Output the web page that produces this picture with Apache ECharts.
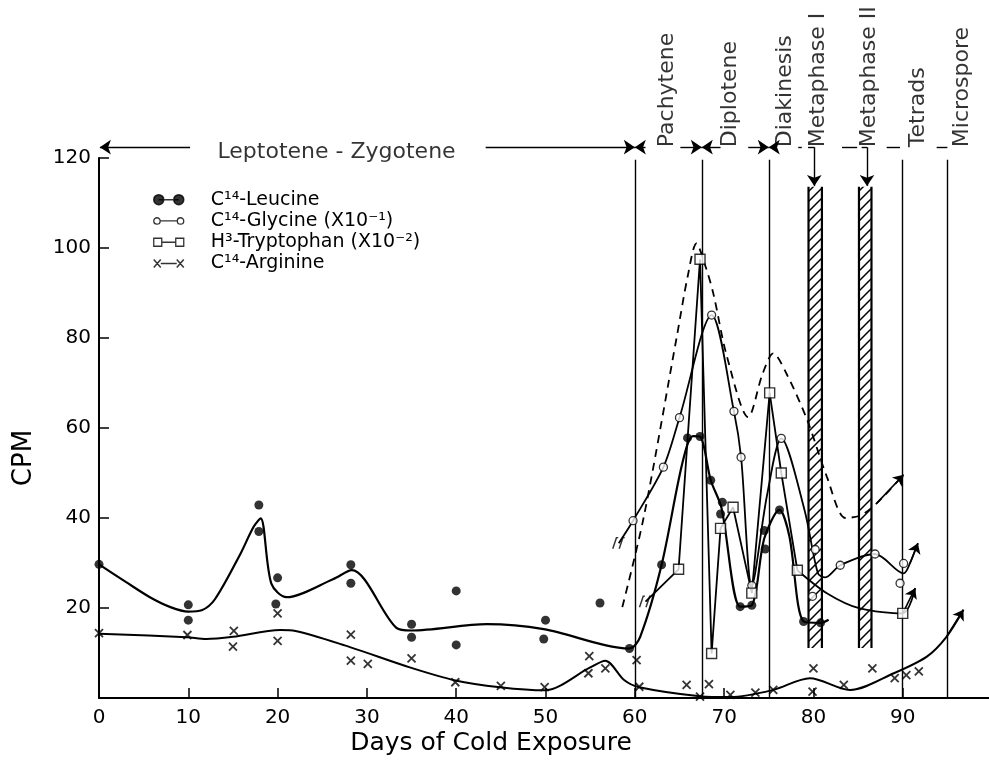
<!DOCTYPE html>
<html><head><meta charset="utf-8">
<script src="https://cdn.jsdelivr.net/npm/echarts@6/dist/echarts.min.js"></script>
<style>html,body{margin:0;padding:0;background:#fff}#c{width:989px;height:761px}</style>
</head><body><div id="c"></div>
<script>
const FONT = 'DejaVu Sans';
// ---------- axis ticks ----------
const xTicks = [0,10,20,30,40,50,60,70,80,90];
const yTicks = [20,40,60,80,100,120];

// ---------- observations ----------
const leucinePoints = [[0,29.7],[10,20.7],[10,17.3],[17.9,42.9],[17.9,37],[20,26.7],[19.8,20.9],[28.2,29.6],[28.2,25.5],[35,16.4],[35,13.5],[40,23.8],[40,11.8],[50,17.3],[49.8,13.1],[56.1,21.1],[59.4,11],[63,29.6],[65.9,57.8],[67.3,58.1],[68.5,48.4],[69.8,43.5],[69.6,40.9],[71.8,20.3],[73.1,20.6],[74.5,37.2],[74.6,33.1],[76.2,41.8],[78.9,17],[80.8,16.7]];
const glycinePoints = [[59.8,39.4],[63.2,51.3],[65,62.3],[68.6,85.1],[71.1,63.7],[71.9,53.5],[73.1,25],[76.4,57.7],[80.2,33],[79.9,22.6],[83,29.5],[86.9,32],[90.1,29.9],[89.7,25.5]];
const tryptophanPoints = [[64.9,28.6],[67.3,97.5],[68.6,9.9],[69.6,37.7],[71,42.4],[73.1,23.3],[75.1,67.8],[76.4,50],[78.2,28.4],[90,18.8]];
const argininePoints = [[0,14.4],[9.9,14],[15.1,14.9],[15,11.4],[20,18.8],[20,12.7],[28.2,14.1],[28.2,8.3],[30.1,7.6],[35,8.8],[39.9,3.5],[45,2.7],[49.9,2.4],[54.9,9.3],[54.8,5.5],[56.7,6.6],[60.2,8.4],[60.5,2.5],[65.8,2.9],[67.3,0.3],[68.3,3.1],[70.7,0.7],[73.5,1.2],[75.5,1.8],[80,6.6],[79.9,1.4],[83.4,2.9],[86.6,6.6],[89.1,4.4],[90.4,5.1],[91.8,5.9]];

// ---------- drawn curves ----------
const leucineCurve = [[0,29.7],[3,25.8],[5.7,22.4],[8,20.2],[10,19.2],[11.5,19.5],[13,22],[15.8,31.9],[17.3,38],[18.1,39.9],[19.3,25.4],[21,22.4],[26.2,26.4],[28.3,28.4],[33.3,15.6],[35,15],[43.4,16.4],[49.8,15.3],[59.4,11],[60.6,13.6],[63,29.6],[65.3,52],[66.5,58.2],[67.3,58.1],[68.5,48.4],[69.7,42.3],[71.8,20.3],[73.1,20.6],[74.5,35.5],[76.2,41.8],[77.3,36],[78.9,17],[80.8,16.7],[81.7,17.4]];
const glycineCurve = [[58.2,34.4],[59.8,39.4],[63.2,51.3],[65,62.3],[68.6,85.1],[71.1,63.7],[71.9,53.5],[73.1,25],[74.8,45],[76.4,57.7],[79,41.8],[80.5,27.7],[81.3,26.8],[83,29.5],[86.9,32],[90.1,27.7],[90.8,29.9],[91.7,34.4]];
const tryptophanLine = [[61.2,21.4],[64.9,28.6],[67.3,97.5],[68.6,9.9],[69.6,37.7],[71,42.4],[73.1,23.3],[75.1,67.8],[76.4,50],[78.2,28.4]];
const tryptophanCurve = [[78.2,28.4],[81.5,23.3],[85.2,19.9],[90,18.8],[91.4,24.4]];
const arginineCurve = [[0,14.3],[9.8,13.5],[12,13.1],[15,13.6],[20.3,15.1],[22,14.9],[28.1,11.3],[34.8,6.8],[39.9,3.9],[44.9,2.4],[49.9,1.7],[55,6.8],[56.7,8.3],[58.8,4],[60.5,2.4],[67.3,0.4],[70.7,0.2],[75.5,1.8],[79.6,4.4],[84.1,1.8],[89,5.5],[92.7,9.2],[94.9,13.6],[96.8,19.6]];
const dashedCurve = [[58.6,20.2],[61,40.2],[64.7,80.3],[65.9,93.5],[66.9,101],[67.9,96],[68.8,89.8],[70.3,76],[72.7,62.4],[74.3,72],[75.5,76.6],[77,72],[79.3,61.8],[81.5,49.2],[83.6,40],[85.3,40.6],[87.1,43.3],[90.1,49.6]];
const breakMarks = [[58.2,34.4],[61.2,21.4]];

// ---------- stage annotations ----------
const phaseBounds = [60, 67.5, 75, 90, 95];
const phaseTop = 119.6;
const stageRowY = 122.4;
const stageNames = ['Pachytene','Diplotene','Diakinesis','Metaphase I','Metaphase II','Tetrads','Microspore'];
const stageLabelX = [63.6, 70.7, 76.8, 80.5, 86.3, 91.7, 96.7];
const leptoLabel = 'Leptotene - Zygotene';
const leptoLabelPos = [26.6, 121.3];
// [from, to, arrow at from, arrow at to]
const stageSegments = [[0.1,10.2,1,0],[43.3,60,0,1],[60,61.2,1,0],[65.1,67.5,0,1],[67.5,69.6,1,0],[72.7,75,0,1],[75,75.8,1,0],
  [78.3,78.7,0,0],[79.4,80.1,0,0],[83.2,84.9,0,0],[85.4,86.0,0,0],[88.2,89.7,0,0],[93.8,95,0,0]];
const metaphaseArrowX = [80.1, 86.0];
const metaphaseArrowEnd = 113.8;
const metaphaseBars = [[79.45,80.95],[85.1,86.5]];
const barYRange = [11.1, 113.6];

// hatch pattern
function hatchCanvas(){
  const c=document.createElement('canvas'); c.width=10; c.height=10;
  const g=c.getContext('2d'); g.strokeStyle='#000'; g.lineWidth=1.5; g.lineCap='square';
  g.beginPath(); g.moveTo(0,10); g.lineTo(10,0); g.moveTo(-5,5); g.lineTo(5,-5); g.moveTo(5,15); g.lineTo(15,5); g.stroke();
  return c;
}
const HATCH = hatchCanvas();

const chart = echarts.init(document.getElementById('c'), null, {renderer:'canvas'});

const blk = '#000';
const LEU='C¹⁴-Leucine', GLY='C¹⁴-Glycine (X10⁻¹)', TRP='H³-Tryptophan (X10⁻²)', ARG='C¹⁴-Arginine';

function arrowEnd(arr){
  const n=arr.length;
  return {silent:true, animation:false, symbol:['none','arrow'], symbolSize:10,
    lineStyle:{color:blk,width:1.6,type:'solid'}, label:{show:false},
    data:[[{coord:arr[n-2]},{coord:arr[n-1]}]]};
}
function curve(name, data, opts){
  return Object.assign({type:'line', name, data, smooth:0.3, symbol:'none', silent:true,
    animation:false, lineStyle:{color:blk, width:1.8}, z:3}, opts||{});
}

const stageMarkData = stageSegments.map(s=>[
  {coord:[s[0],stageRowY], symbol: s[2]?'arrow':'none'},
  {coord:[s[1],stageRowY], symbol: s[3]?'arrow':'none'}])
 .concat(phaseBounds.map(x=>[{coord:[x,0],symbol:'none'},{coord:[x,phaseTop],symbol:'none'}]))
 .concat(metaphaseArrowX.map(x=>[{coord:[x,stageRowY],symbol:'none'},{coord:[x,metaphaseArrowEnd],symbol:'arrow'}]));

const option = {
  backgroundColor:'#fff',
  animation:false,
  textStyle:{fontFamily:FONT},
  grid:[
    {left:99, right:0, top:158, bottom:63},
    {left:99, right:0, top:0, bottom:63}
  ],
  xAxis:[
    {type:'value', gridIndex:0, min:0, max:99.66,
     axisLine:{lineStyle:{color:blk,width:2}},
     axisTick:{inside:true, length:10, customValues:xTicks, lineStyle:{color:blk,width:1.5}},
     axisLabel:{customValues:xTicks, color:blk, fontSize:20, fontFamily:FONT, margin:10},
     splitLine:{show:false}},
    {type:'value', gridIndex:1, min:0, max:99.66, show:false}
  ],
  yAxis:[
    {type:'value', gridIndex:0, min:0, max:120, interval:20,
     axisLine:{show:true, lineStyle:{color:blk,width:2}},
     axisTick:{show:true, inside:true, length:10, customValues:yTicks, lineStyle:{color:blk,width:1.5}},
     axisLabel:{customValues:yTicks, color:blk, fontSize:20, fontFamily:FONT, margin:8},
     splitLine:{show:false}},
    {type:'value', gridIndex:1, min:0, max:698/4.5, show:false}
  ],
  legend:{
    orient:'vertical', left:148, top:184, itemWidth:30, itemHeight:10, itemGap:0,
    selectedMode:false,
    textStyle:{fontFamily:FONT, fontSize:19, color:blk, lineHeight:21.3, padding:[0,0,0,22]},
    data:[
      {name:LEU, icon:'path://M0,5a5,5 0 1,0 10,0a5,5 0 1,0 -10,0z M20,5a5,5 0 1,0 10,0a5,5 0 1,0 -10,0z M5,5L25,5', itemStyle:{color:blk, borderColor:blk, borderWidth:1.5}},
      {name:GLY, icon:'path://M1,5a3,3 0 1,0 6,0a3,3 0 1,0 -6,0z M23,5a3,3 0 1,0 6,0a3,3 0 1,0 -6,0z M7,5L23,5', itemStyle:{color:'#fff', borderColor:blk, borderWidth:1.3}},
      {name:TRP, icon:'path://M0,1h8v8h-8z M22,1h8v8h-8z M8,5L22,5', itemStyle:{color:'#fff', borderColor:blk, borderWidth:1.3}},
      {name:ARG, icon:'path://M0,1L7,9M0,9L7,1 M23,1L30,9M23,9L30,1 M7,5L23,5', itemStyle:{color:'rgba(0,0,0,0)', borderColor:blk, borderWidth:1.5}}
    ]
  },
  graphic:[
    {type:'text', x:24, y:458, rotation:Math.PI/2, style:{text:'CPM', font:'26px "DejaVu Sans"', fill:blk, textAlign:'center', textVerticalAlign:'middle', align:'center', verticalAlign:'middle'}},
    {type:'text', x:491, y:743, style:{text:'Days of Cold Exposure', font:'25px "DejaVu Sans"', fill:blk, textAlign:'center', textVerticalAlign:'middle', align:'center', verticalAlign:'middle'}}
  ],
  series:[
    {type:'custom', name:'bars', xAxisIndex:0, yAxisIndex:0, silent:true, z:1,
     data: metaphaseBars.map(b=>[b[0],b[1],barYRange[0],barYRange[1]]),
     encode:{x:[0,1], y:[2,3]},
     renderItem:(params, api)=>{
       const p0=api.coord([api.value(0), api.value(3)]);
       const p1=api.coord([api.value(1), api.value(2)]);
       return {type:'group', children:[
         {type:'rect', shape:{x:p0[0], y:p0[1], width:p1[0]-p0[0], height:p1[1]-p0[1]}, style:{fill:{image:HATCH, repeat:'repeat'}}},
         {type:'line', shape:{x1:p0[0],y1:p0[1],x2:p0[0],y2:p1[1]}, style:{stroke:blk, lineWidth:2.2}},
         {type:'line', shape:{x1:p1[0],y1:p0[1],x2:p1[0],y2:p1[1]}, style:{stroke:blk, lineWidth:2.2}}
       ]};
     }},
    {type:'scatter', name:'stages', xAxisIndex:1, yAxisIndex:1, silent:true, clip:false, z:2,
     symbolSize:0.1, itemStyle:{color:'rgba(0,0,0,0)'},
     data: stageNames.map((n,i)=>({name:n, value:[stageLabelX[i], stageRowY]})),
     label:{show:true, formatter:'{b}', rotate:90, position:'inside', align:'left', verticalAlign:'middle',
       fontFamily:FONT, fontSize:22, color:blk},
     markLine:{silent:true, animation:false, symbol:['none','none'], symbolSize:11,
       lineStyle:{color:blk, width:1.4, type:'solid'}, label:{show:false}, data: stageMarkData}},
    {type:'scatter', name:'lepto', xAxisIndex:1, yAxisIndex:1, silent:true, clip:false, z:2,
     symbolSize:0.1, itemStyle:{color:'rgba(0,0,0,0)'},
     data:[{name:leptoLabel, value:leptoLabelPos}],
     label:{show:true, formatter:'{b}', position:'inside', align:'center', verticalAlign:'middle',
       fontFamily:FONT, fontSize:22, color:blk}},
    curve('leuCurve', leucineCurve, {lineStyle:{color:blk,width:2.2}}),
    curve('glyCurve', glycineCurve, {markLine: arrowEnd(glycineCurve)}),
    curve('trpLine', tryptophanLine, {smooth:false}),
    curve('trpCurve', tryptophanCurve, {markLine: arrowEnd(tryptophanCurve)}),
    curve('argCurve', arginineCurve, {lineStyle:{color:blk,width:2}, markLine: arrowEnd(arginineCurve)}),
    curve('dashed', dashedCurve, {smooth:0.3, lineStyle:{color:blk,width:1.8,type:[8,6]}, markLine: arrowEnd(dashedCurve)}),
    {type:'scatter', name:'breaks', data:breakMarks, silent:true, z:4,
     symbol:'path://M0,12L4,0H6M7,12L11,0H13', symbolSize:[12,11],
     itemStyle:{color:'rgba(0,0,0,0)', borderColor:blk, borderWidth:1.4}},
    {type:'scatter', name:LEU, data:leucinePoints, symbol:'circle', symbolSize:9, silent:true, z:5,
     itemStyle:{color:blk}},
    {type:'scatter', name:GLY, data:glycinePoints, symbol:'circle', symbolSize:8, silent:true, z:5,
     itemStyle:{color:'#fff', borderColor:blk, borderWidth:1.3}},
    {type:'scatter', name:TRP, data:tryptophanPoints, symbol:'rect', symbolSize:10, silent:true, z:5,
     itemStyle:{color:'#fff', borderColor:blk, borderWidth:1.4}},
    {type:'scatter', name:ARG, data:argininePoints, symbol:'path://M0,0L10,10M0,10L10,0', symbolSize:8, silent:true, z:5,
     itemStyle:{color:'rgba(0,0,0,0)', borderColor:blk, borderWidth:1.8}}
  ]
};
chart.setOption(option);
</script>
</body></html>
